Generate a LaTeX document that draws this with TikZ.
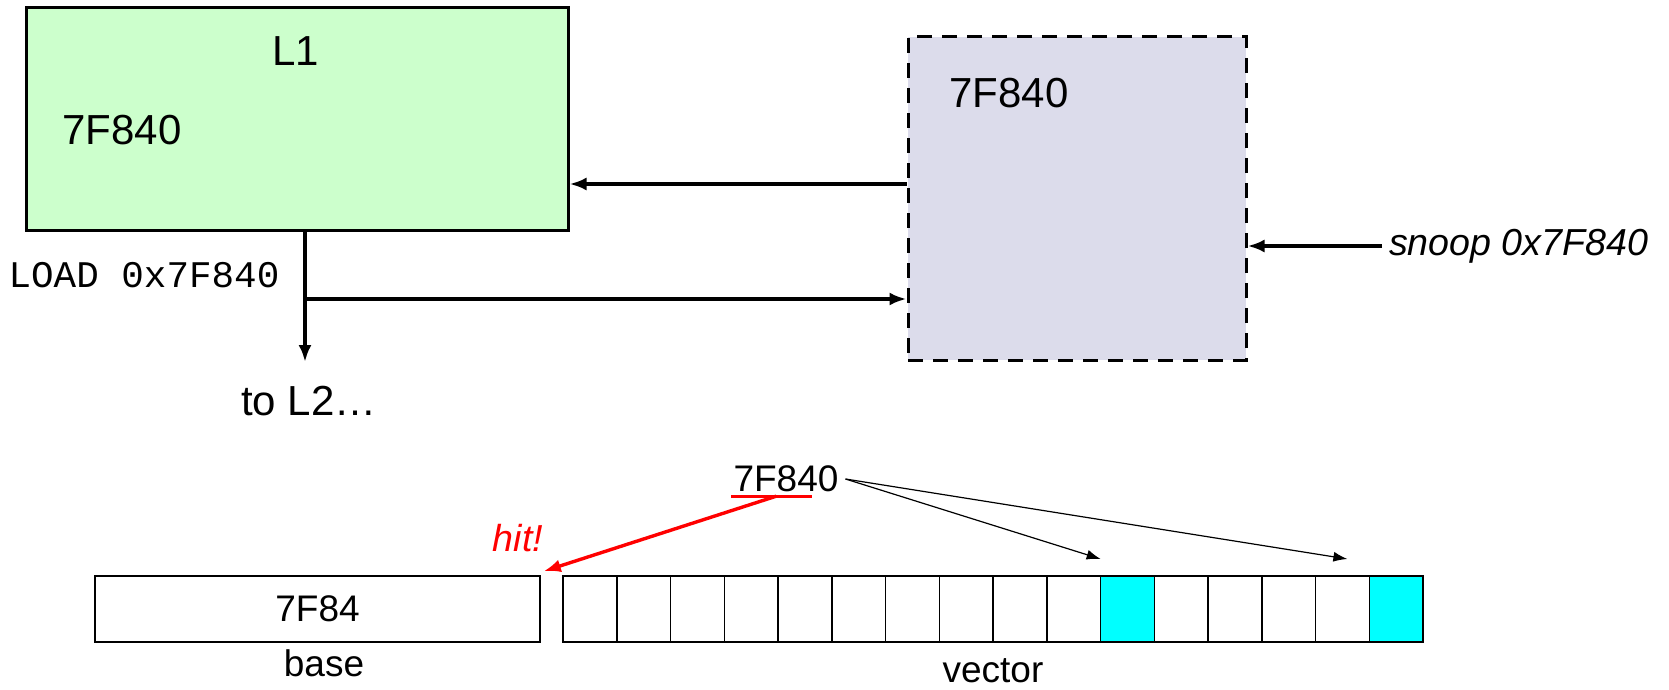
\documentclass[tikz,border=0pt]{standalone}
\usepackage{fontspec}
\setmainfont{Liberation Sans}
\setmonofont{Liberation Mono}
\usetikzlibrary{positioning, arrows.meta}
\definecolor{cachegreen}{RGB}{204,255,204}
\definecolor{bufgray}{RGB}{220,220,235}
\definecolor{hitcyan}{RGB}{0,255,255}
\colorlet{cellfill0}{white}
\colorlet{cellfill1}{hitcyan}

\begin{document}
\begin{tikzpicture}[x=0.5pt, y=-0.5pt,
        bigtext/.style={font=\fontsize{21}{25}\selectfont},
        smalltext/.style={font=\fontsize{18.5}{22}\selectfont},
        slanttext/.style={font=\fontsize{18.8}{22}\selectfont\itshape},
        wire/.style={line width=1.7pt, -{Latex[length=8.5pt,width=6.5pt]}},
        pointer/.style={line width=0.6pt, -{Latex[length=7pt,width=5pt]}},
        cell/.style={rectangle, draw, line width=0.8pt, minimum width=26.875pt, minimum height=33pt, inner sep=0pt, outer sep=0pt}]
        \useasboundingbox (0,0) rectangle (1669,690);
        % top half: L1 and the snoop buffer
        \node[rectangle, draw, line width=1.5pt, fill=cachegreen, minimum width=271pt, minimum height=111pt](L1) at (297,119) {};
        \node[bigtext](L1name) at (296,51) {L1};
        \node[bigtext](L1tag) at (122,130) {7F840};
        \node[rectangle, draw, dash pattern=on 7.5pt off 5pt, line width=1.5pt, fill=bufgray, minimum width=169pt, minimum height=161.5pt](snp) at (1077,198.5) {};
        \node[bigtext](snptag) at (1009,93) {7F840};
        \coordinate (ret) at (0,184);
        \draw[wire] (snp.west |- ret) -- (L1.east |- ret);
        \node[font=\ttfamily\fontsize{18.8}{22}\selectfont](load) at (144,275) {LOAD 0x7F840};
        \coordinate (tap) at (305,299);
        \coordinate (down) at (305,362);
        \node[bigtext](toL2) at (309,401) {to L2…};
        \draw[wire] (L1.south -| tap) -- (down);
        \draw[wire] (tap) -- (snp.west |- tap);
        \node[slanttext, anchor=west](snooptxt) at (1382,246) {snoop 0x7F840};
        \draw[wire] (snooptxt.west) -- (snp.east |- snooptxt.west);
        % bottom half: base + bit vector
        \node[rectangle, draw, line width=0.8pt, minimum width=222.5pt, minimum height=33pt, inner sep=0pt, smalltext](base) at (317.5,609) {7F84};
        \node[smalltext](baselbl) at (324,663) {base};
        \foreach \i [evaluate=\i as \f using {int(\i==10||\i==15)}] in {0,...,15}
                \node[cell, fill=cellfill\f](c\i) at ({590+53.75*\i},609) {};
        \node[smalltext, inner sep=0pt](veclbl) at (993,671) {vector};
        \node[smalltext](addr) at (786,479) {7F840};
        \coordinate (ul1) at ([xshift=2.5pt, yshift=1.5pt]addr.south west);
        \coordinate (ul2) at ([xshift=-17pt, yshift=1.5pt]addr.south east);
        \draw[red, line width=1.5pt] (ul1) -- (ul2) coordinate[pos=0.56](ulmid);
        \draw[wire, red] (ulmid) -- ([xshift=1.5pt, yshift=2pt]base.north east);
        \node[slanttext, text=red](hit) at (518,538) {hit!};
        \draw[pointer] (addr.east) -- ([yshift=8.5pt]c10.north west);
        \draw[pointer] (addr.east) -- ([xshift=-11pt, yshift=8.5pt]c15.north west);
    \end{tikzpicture}
\end{document}
